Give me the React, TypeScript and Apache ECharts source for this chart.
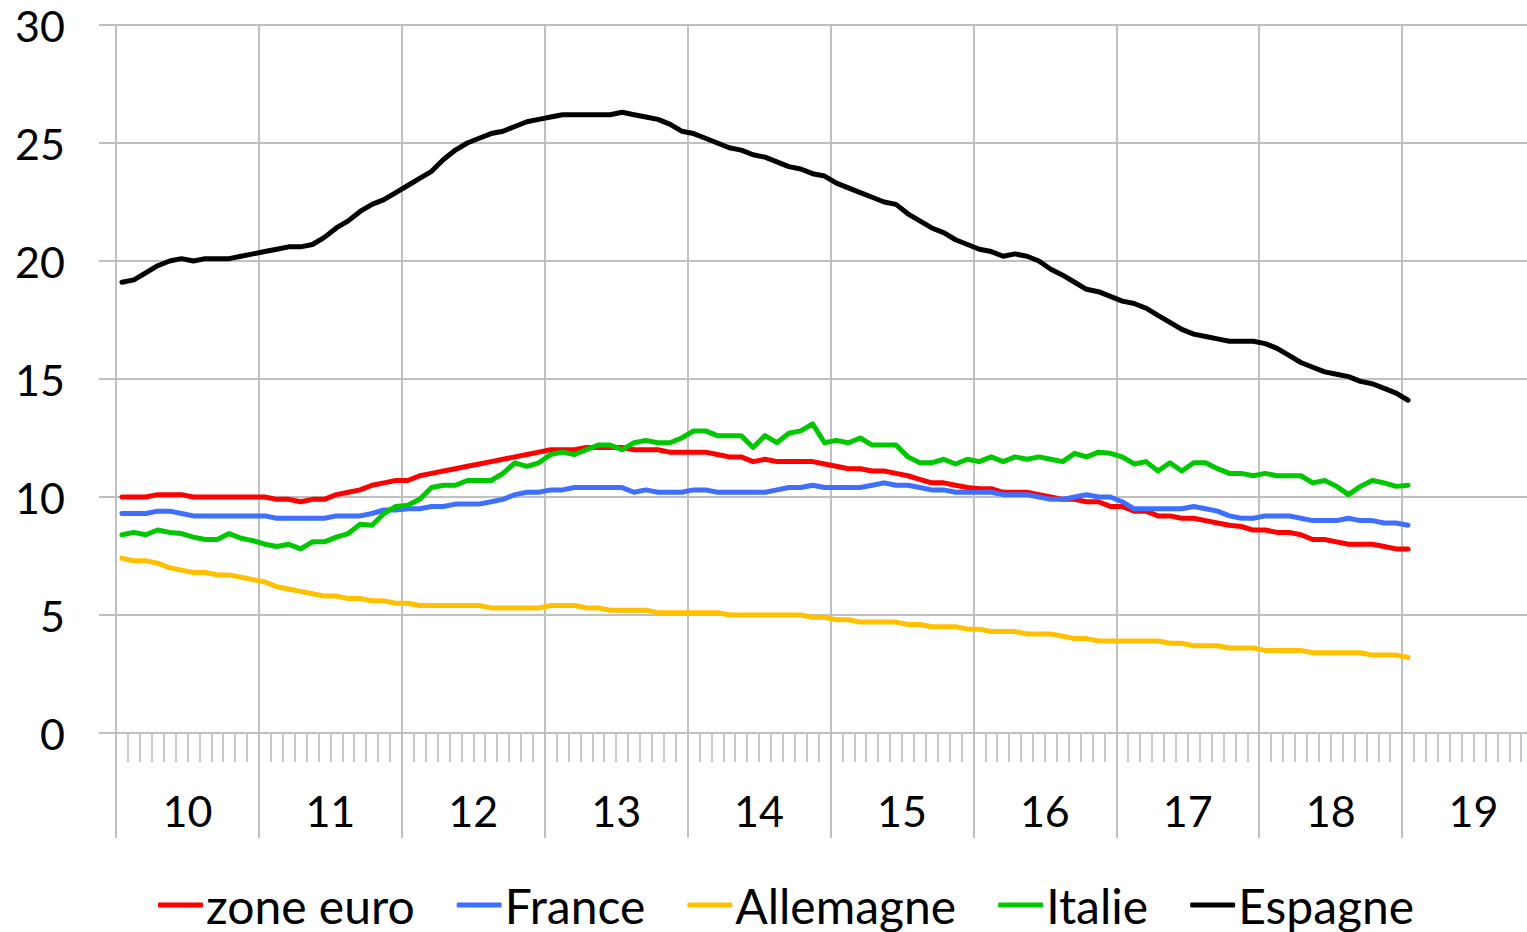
import React, { useEffect, useRef } from "react";
import * as echarts from "echarts";

const yearLabels = ["10", "11", "12", "13", "14", "15", "16", "17", "18", "19"];
const monthCategories: string[] = [];
yearLabels.forEach((y) => {
  for (let m = 1; m <= 12; m++) monthCategories.push(`${y}-${m < 10 ? "0" + m : m}`);
});

const zoneEuro = [
  10.0, 10.0, 10.0, 10.1, 10.1, 10.1, 10.0, 10.0, 10.0, 10.0, 10.0, 10.0,
  10.0, 9.9, 9.9, 9.8, 9.9, 9.9, 10.1, 10.2, 10.3, 10.5, 10.6, 10.7,
  10.7, 10.9, 11.0, 11.1, 11.2, 11.3, 11.4, 11.5, 11.6, 11.7, 11.8, 11.9,
  12.0, 12.0, 12.0, 12.1, 12.1, 12.1, 12.1, 12.0, 12.0, 12.0, 11.9, 11.9,
  11.9, 11.9, 11.8, 11.7, 11.7, 11.5, 11.6, 11.5, 11.5, 11.5, 11.5, 11.4,
  11.3, 11.2, 11.2, 11.1, 11.1, 11.0, 10.9, 10.75, 10.6, 10.6, 10.5, 10.4,
  10.35, 10.35, 10.2, 10.2, 10.2, 10.1, 10.0, 9.9, 9.9, 9.8, 9.8, 9.6,
  9.6, 9.4, 9.4, 9.2, 9.2, 9.1, 9.1, 9.0, 8.9, 8.8, 8.75, 8.6,
  8.6, 8.5, 8.5, 8.4, 8.2, 8.2, 8.1, 8.0, 8.0, 8.0, 7.9, 7.8,
  7.8,
];

const france = [
  9.3, 9.3, 9.3, 9.4, 9.4, 9.3, 9.2, 9.2, 9.2, 9.2, 9.2, 9.2,
  9.2, 9.1, 9.1, 9.1, 9.1, 9.1, 9.2, 9.2, 9.2, 9.3, 9.45, 9.45,
  9.5, 9.5, 9.6, 9.6, 9.7, 9.7, 9.7, 9.8, 9.9, 10.1, 10.2, 10.2,
  10.3, 10.3, 10.4, 10.4, 10.4, 10.4, 10.4, 10.2, 10.3, 10.2, 10.2, 10.2,
  10.3, 10.3, 10.2, 10.2, 10.2, 10.2, 10.2, 10.3, 10.4, 10.4, 10.5, 10.4,
  10.4, 10.4, 10.4, 10.5, 10.6, 10.5, 10.5, 10.4, 10.3, 10.3, 10.2, 10.2,
  10.2, 10.2, 10.1, 10.1, 10.1, 10.0, 9.9, 9.9, 10.0, 10.1, 10.0, 10.0,
  9.8, 9.5, 9.5, 9.5, 9.5, 9.5, 9.6, 9.5, 9.4, 9.2, 9.1, 9.1,
  9.2, 9.2, 9.2, 9.1, 9.0, 9.0, 9.0, 9.1, 9.0, 9.0, 8.9, 8.9,
  8.8,
];

const allemagne = [
  7.4, 7.3, 7.3, 7.2, 7.0, 6.9, 6.8, 6.8, 6.7, 6.7, 6.6, 6.5,
  6.4, 6.2, 6.1, 6.0, 5.9, 5.8, 5.8, 5.7, 5.7, 5.6, 5.6, 5.5,
  5.5, 5.4, 5.4, 5.4, 5.4, 5.4, 5.4, 5.3, 5.3, 5.3, 5.3, 5.3,
  5.4, 5.4, 5.4, 5.3, 5.3, 5.2, 5.2, 5.2, 5.2, 5.1, 5.1, 5.1,
  5.1, 5.1, 5.1, 5.0, 5.0, 5.0, 5.0, 5.0, 5.0, 5.0, 4.9, 4.9,
  4.8, 4.8, 4.7, 4.7, 4.7, 4.7, 4.6, 4.6, 4.5, 4.5, 4.5, 4.4,
  4.4, 4.3, 4.3, 4.3, 4.2, 4.2, 4.2, 4.1, 4.0, 4.0, 3.9, 3.9,
  3.9, 3.9, 3.9, 3.9, 3.8, 3.8, 3.7, 3.7, 3.7, 3.6, 3.6, 3.6,
  3.5, 3.5, 3.5, 3.5, 3.4, 3.4, 3.4, 3.4, 3.4, 3.3, 3.3, 3.3,
  3.2,
];

const italie = [
  8.4, 8.5, 8.4, 8.6, 8.5, 8.45, 8.3, 8.2, 8.2, 8.45, 8.25, 8.15,
  8.0, 7.9, 8.0, 7.8, 8.1, 8.1, 8.3, 8.45, 8.85, 8.8, 9.3, 9.6,
  9.65, 9.9, 10.4, 10.5, 10.5, 10.7, 10.7, 10.7, 11.0, 11.45, 11.3, 11.45,
  11.8, 11.9, 11.8, 12.0, 12.2, 12.2, 12.0, 12.3, 12.4, 12.3, 12.3, 12.5,
  12.8, 12.8, 12.6, 12.6, 12.6, 12.1, 12.6, 12.3, 12.7, 12.8, 13.1, 12.3,
  12.4, 12.3, 12.5, 12.2, 12.2, 12.2, 11.7, 11.45, 11.45, 11.6, 11.4, 11.6,
  11.5, 11.7, 11.5, 11.7, 11.6, 11.7, 11.6, 11.5, 11.85, 11.7, 11.9, 11.85,
  11.7, 11.4, 11.5, 11.1, 11.45, 11.1, 11.45, 11.45, 11.2, 11.0, 11.0, 10.9,
  11.0, 10.9, 10.9, 10.9, 10.6, 10.7, 10.45, 10.1, 10.45, 10.7, 10.6, 10.45,
  10.5,
];

const espagne = [
  19.1, 19.2, 19.5, 19.8, 20.0, 20.1, 20.0, 20.1, 20.1, 20.1, 20.2, 20.3,
  20.4, 20.5, 20.6, 20.6, 20.7, 21.0, 21.4, 21.7, 22.1, 22.4, 22.6, 22.9,
  23.2, 23.5, 23.8, 24.3, 24.7, 25.0, 25.2, 25.4, 25.5, 25.7, 25.9, 26.0,
  26.1, 26.2, 26.2, 26.2, 26.2, 26.2, 26.3, 26.2, 26.1, 26.0, 25.8, 25.5,
  25.4, 25.2, 25.0, 24.8, 24.7, 24.5, 24.4, 24.2, 24.0, 23.9, 23.7, 23.6,
  23.3, 23.1, 22.9, 22.7, 22.5, 22.4, 22.0, 21.7, 21.4, 21.2, 20.9, 20.7,
  20.5, 20.4, 20.2, 20.3, 20.2, 20.0, 19.65, 19.4, 19.1, 18.8, 18.7, 18.5,
  18.3, 18.2, 18.0, 17.7, 17.4, 17.1, 16.9, 16.8, 16.7, 16.6, 16.6, 16.6,
  16.5, 16.3, 16.0, 15.7, 15.5, 15.3, 15.2, 15.1, 14.9, 14.8, 14.6, 14.4,
  14.1,
];

const seriesNames = ["zone euro", "France", "Allemagne", "Italie", "Espagne"];
const seriesColors = ["#ff0000", "#3f6fff", "#ffc000", "#00c800", "#000000"];
const seriesData = [zoneEuro, france, allemagne, italie, espagne];

const FONT = "Lato";
const GRID_COLOR = "#c0c0c0";

export default function App() {
  const ref = useRef<HTMLDivElement>(null);

  useEffect(() => {
    if (!ref.current) return;
    const chart = echarts.init(ref.current, undefined, { renderer: "svg" });
    chart.setOption({
      animation: false,
      backgroundColor: "#ffffff",
      textStyle: { fontFamily: FONT },
      grid: { left: 116, top: 25, bottom: 199, right: 0, containLabel: false },
      legend: {
        left: 158,
        top: 881,
        padding: 0,
        icon: "roundRect",
        itemWidth: 45,
        itemHeight: 5,
        itemGap: 42,
        textStyle: { fontFamily: FONT, fontSize: 48, color: "#000", lineHeight: 48, padding: [0, 0, 0, -2] },
        data: seriesNames,
      },
      xAxis: [
        {
          type: "category",
          position: "bottom",
          data: monthCategories,
          boundaryGap: true,
          axisLine: { show: true, lineStyle: { color: GRID_COLOR, width: 2 } },
          axisTick: { show: true, interval: 0, length: 29, lineStyle: { color: "#c8c8c8", width: 2 } },
          axisLabel: { show: false },
          splitLine: { show: false },
        },
        {
          type: "category",
          position: "bottom",
          data: yearLabels,
          boundaryGap: true,
          axisLine: { show: false },
          axisTick: { show: true, interval: 0, length: 105, lineStyle: { color: GRID_COLOR, width: 2 } },
          axisLabel: { show: true, interval: 0, margin: 56, fontFamily: FONT, fontSize: 43, color: "#000" },
          splitLine: { show: true, interval: 0, lineStyle: { color: GRID_COLOR, width: 2 } },
        },
      ],
      yAxis: {
        type: "value",
        min: 0,
        max: 30,
        interval: 5,
        axisLine: { show: false },
        axisTick: { show: true, length: 17, lineStyle: { color: GRID_COLOR, width: 2 } },
        axisLabel: { margin: 51, fontFamily: FONT, fontSize: 43, color: "#000" },
        splitLine: { show: true, lineStyle: { color: GRID_COLOR, width: 2 } },
      },
      series: seriesNames.map((name, k) => ({
        name,
        type: "line",
        xAxisIndex: 0,
        yAxisIndex: 0,
        data: seriesData[k],
        symbol: "none",
        color: seriesColors[k],
        lineStyle: { width: 5, color: seriesColors[k], join: "round", cap: "round" },
      })),
    });
    return () => chart.dispose();
  }, []);

  return (
    <div style={{ position: "absolute", left: 0, top: 0, width: 1527, height: 932, overflow: "hidden" }}>
      <div ref={ref} style={{ width: 1545, height: 932 }} />
    </div>
  );
}
